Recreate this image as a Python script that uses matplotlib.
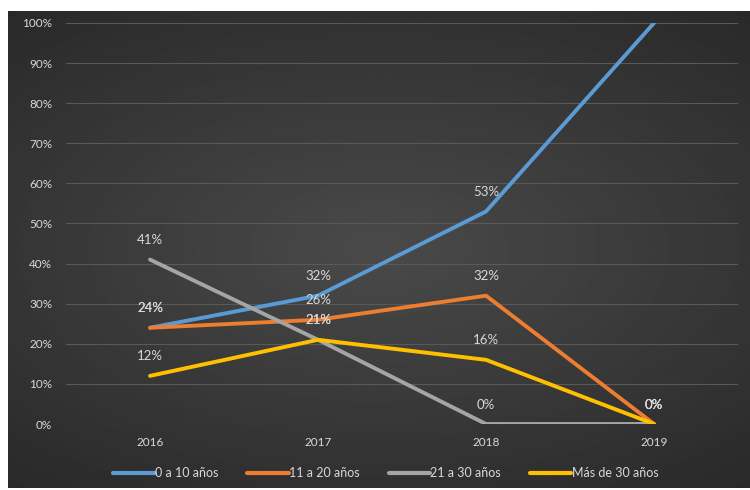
import numpy as np
import matplotlib.pyplot as plt

plt.rcParams['font.family'] = ['Lato', 'DejaVu Sans']

# Data
years = ['2016', '2017', '2018', '2019']
serie_0_10 = [24, 32, 53, 100]
serie_11_20 = [24, 26, 32, 0]
serie_21_30 = [41, 21, 0, 0]
serie_30_mas = [12, 21, 16, 0]
names = ['0 a 10 años', '11 a 20 años', '21 a 30 años', 'Más de 30 años']
colors = ['#5B9BD5', '#ED7D31', '#A5A5A5', '#FFC000']

fig = plt.figure(figsize=(7.5, 4.9), dpi=100)
fig.patch.set_facecolor('white')

# dark panel with a soft radial gradient
bg = fig.add_axes([8 / 750, 2 / 490, 742 / 750, 477 / 490], zorder=0)
yy, xx = np.mgrid[-1:1:200j, -1:1:300j]
r = np.sqrt((xx * 0.9) ** 2 + (yy * 1.1) ** 2)
bg.imshow(np.clip(0.29 - 0.09 * r, 0, 1), cmap='gray', vmin=0, vmax=1,
          aspect='auto', extent=[0, 1, 0, 1])
bg.axis('off')

ax = fig.add_axes([66 / 750, 66 / 490, 672 / 750, 401 / 490], zorder=1)
ax.patch.set_alpha(0)
ax.set_xlim(-0.5, 3.5)
ax.set_ylim(0, 100)
x = np.arange(len(years))
series = [serie_0_10, serie_11_20, serie_21_30, serie_30_mas]
for vals, name, c in zip(series, names, colors):
    ax.plot(x, vals, color=c, lw=2.8, label=name, solid_capstyle='round',
            solid_joinstyle='round', zorder=3)
    for xi, v in zip(x, vals):
        if v >= ax.get_ylim()[1]:
            continue  # label of 100% falls outside the chart, not shown
        ax.annotate(f'{v}%', (xi, v), xytext=(0, 14), textcoords='offset points',
                    ha='center', va='center', color='#d9d9d9', fontsize=9.5,
                    zorder=4)

ax.set_yticks(np.arange(0, 101, 10))
ax.set_yticklabels([f'{v}%' for v in range(0, 101, 10)])
ax.set_xticks(x)
ax.set_xticklabels(years)
ax.grid(axis='y', color='#595959', lw=0.8, zorder=0)
ax.tick_params(length=0, colors='#d9d9d9', labelsize=8.5, pad=10)
ax.tick_params(axis='x', pad=9)
for s in ax.spines.values():
    s.set_visible(False)

leg = ax.legend(loc='center', bbox_to_anchor=(0.476, -0.122), ncol=4,
                frameon=False, fontsize=9, handlelength=3.3, handletextpad=0.05,
                columnspacing=2.3, labelcolor='#d9d9d9')
for h in leg.get_lines():
    h.set_linewidth(3)

fig.savefig('out.png', dpi=100, facecolor=fig.get_facecolor())
